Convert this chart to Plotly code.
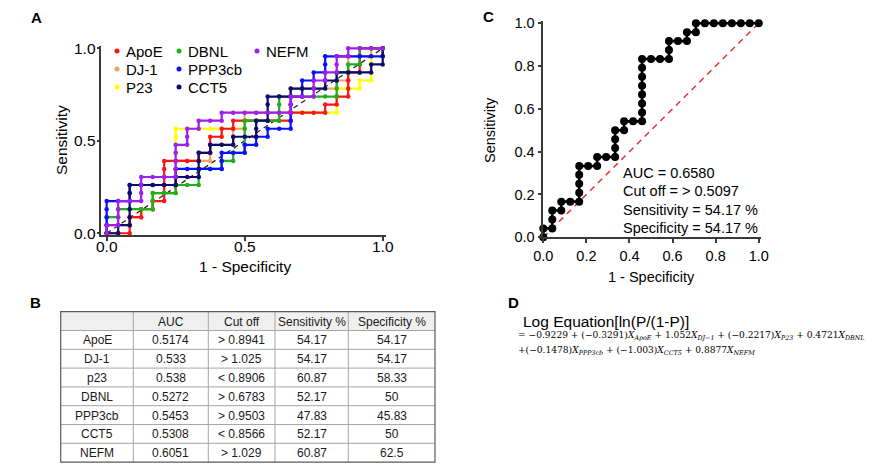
import plotly.graph_objects as go

# page body has an 8 px margin, so the figure is drawn 8 px in from the top-left corner
OFF = 8
W, H = 878 - OFF, 468 - OFF

# ---------------- Panel A data (ROC step sequences) ----------------
# R = one more false positive (step of 1/24 in 1 - specificity)
# U = one more true positive (step of 1/23 in sensitivity)
NEG_A, POS_A = 24, 23
steps_apoe = "RR UU R U R U R UUUUU R RR U R UU R U R U RRRRR U RRR U R U R UUU R UUU RR"
steps_dj1 = "U RR U R U R UU RR UUUU RRR UU RR UU R UU RRRR UUU RRRR U R UUU RR U R"
steps_p23 = "U R UU RRR UU RR UUUUUUUU RRR RRR U RRR U RR RRR UUU RR U R UUUU R"
steps_dbnl = "UU R U R RR UU RR U RR UU RR U R U R UUUU RRR UUU RRRRR UUU R U R UU RR"
steps_ppp3cb = "UUUU RR UU RRRR UU RRRR UU RR U R U R U RR UUUU R UU R U R UU RRRRR U"
steps_cct5 = "R U R UUUUU RRRR U RR UUU R U RR U RR UU R UUU RR U RRR U R U RRR U R UU"
steps_nefm = "U R UUU RR UUU RRR UUUU R UU R U RR U RRRRRR UU RR UU R U R UU R U RRR"

names_a = ["ApoE", "DJ-1", "P23", "DBNL", "PPP3cb", "CCT5", "NEFM"]
colors_a = ["#ff1414", "#f4a460", "#ffff00", "#1fae1f", "#0a10ff", "#0b0b6e", "#a01ef0"]
steps_a = [steps_apoe, steps_dj1, steps_p23, steps_dbnl, steps_ppp3cb, steps_cct5, steps_nefm]
draw_order_a = ["P23", "DJ-1", "ApoE", "DBNL", "PPP3cb", "CCT5", "NEFM"]
ticks_a = [0, 0.5, 1.0]
ticklabels_a = ["0.0", "0.5", "1.0"]

# ---------------- Panel C data ----------------
NEG_C, POS_C = 24, 24
steps_combined = "U R UU R U RR UUUU RR U RR UUU R U RR UUUUUUU RRR UU RR U R U RRRRRRR"
ticks_c = [0, 0.2, 0.4, 0.6, 0.8, 1.0]
ticklabels_c = ["0.0", "0.2", "0.4", "0.6", "0.8", "1.0"]
auc_text = ["AUC = 0.6580", "Cut off = > 0.5097", "Sensitivity = 54.17 %", "Specificity = 54.17 %"]

# ---------------- Panel B table ----------------
tbl_header = ["", "AUC", "Cut off", "Sensitivity %", "Specificity %"]
tbl_marker = ["ApoE", "DJ-1", "p23", "DBNL", "PPP3cb", "CCT5", "NEFM"]
tbl_auc = ["0.5174", "0.533", "0.538", "0.5272", "0.5453", "0.5308", "0.6051"]
tbl_cutoff = ["> 0.8941", "> 1.025", "< 0.8906", "> 0.6783", "> 0.9503", "< 0.8566", "> 1.029"]
tbl_sens = ["54.17", "54.17", "60.87", "52.17", "47.83", "52.17", "60.87"]
tbl_spec = ["54.17", "54.17", "58.33", "50", "45.83", "50", "62.5"]

# ---------------- Panel D equation ----------------
eq_title = "Log Equation[ln(P/(1-P)]"
eq_line1 = ("= \u22120.9229 + (\u22120.3291)<i>X</i><sub><i>ApoE</i></sub> + 1.052<i>X</i><sub><i>DJ\u22121</i></sub>"
            " + (\u22120.2217)<i>X</i><sub><i>P23</i></sub> + 0.4721<i>X</i><sub><i>DBNL</i></sub>")
eq_line2 = ("+(\u22120.1478)<i>X</i><sub><i>PPP3cb</i></sub> + (\u22121.003)<i>X</i><sub><i>CCT5</i></sub>"
            " + 0.8877<i>X</i><sub><i>NEFM</i></sub>")


def decode(steps, n_neg, n_pos):
    s = steps.replace(" ", "")
    assert s.count("R") == n_neg and s.count("U") == n_pos, (s.count("R"), s.count("U"))
    fp = tp = 0
    xs, ys = [0.0], [0.0]
    for c in s:
        if c == "R":
            fp += 1
        else:
            tp += 1
        xs.append(fp / n_neg)
        ys.append(tp / n_pos)
    return xs, ys


def px(x):
    return (x - OFF) / W


def py(y):
    return 1 - (y - OFF) / H


FONT = "Arial, Liberation Sans, sans-serif"
AX = "#3a3a3a"

fig = go.Figure()

# reference diagonal, panel A
fig.add_trace(go.Scatter(x=[0, 1], y=[0, 1], mode="lines", xaxis="x", yaxis="y",
                         line=dict(color="#222", width=1.3, dash="5px,4px"),
                         showlegend=False, hoverinfo="skip"))

for nm in draw_order_a:
    i = names_a.index(nm)
    xs, ys = decode(steps_a[i], NEG_A, POS_A)
    fig.add_trace(go.Scatter(x=xs, y=ys, mode="lines+markers", name=nm,
                             xaxis="x", yaxis="y", cliponaxis=False,
                             line=dict(color=colors_a[i], width=2.2),
                             marker=dict(color=colors_a[i], size=4.5),
                             showlegend=False))

# panel C
fig.add_trace(go.Scatter(x=[0, 1], y=[0, 1], mode="lines", xaxis="x2", yaxis="y2",
                         line=dict(color="#e8343c", width=1.6, dash="6px,5px"),
                         showlegend=False, hoverinfo="skip"))
xc, yc = decode(steps_combined, NEG_C, POS_C)
fig.add_trace(go.Scatter(x=xc, y=yc, mode="lines+markers", xaxis="x2", yaxis="y2",
                         cliponaxis=False, line=dict(color="black", width=2.6),
                         marker=dict(color="black", size=8), showlegend=False))

ann = []
shapes = []

# ---------------- table drawn with shapes + annotations ----------------
col_edges = [60.7, 133.3, 208.3, 275.0, 348.3, 435.0]
row_top, row_h = 311.7, 18.8
columns = [tbl_marker, tbl_auc, tbl_cutoff, tbl_sens, tbl_spec]
n_rows = len(tbl_marker) + 1
row_edges = [row_top + k * row_h for k in range(n_rows + 1)]
shapes.append(dict(type="rect", xref="paper", yref="paper",
                   x0=px(col_edges[0]), x1=px(col_edges[-1]), y0=py(row_edges[1]), y1=py(row_edges[0]),
                   fillcolor="#efefef", line=dict(width=0), layer="below"))
for yy in row_edges[1:-1]:
    shapes.append(dict(type="line", xref="paper", yref="paper", x0=px(col_edges[0]), x1=px(col_edges[-1]),
                       y0=py(yy), y1=py(yy), line=dict(color="#a6a6a6", width=1)))
for xx in col_edges[1:-1]:
    shapes.append(dict(type="line", xref="paper", yref="paper", x0=px(xx), x1=px(xx),
                       y0=py(row_edges[0]), y1=py(row_edges[-1]), line=dict(color="#a6a6a6", width=1)))
shapes.append(dict(type="rect", xref="paper", yref="paper", x0=px(col_edges[0]), x1=px(col_edges[-1]),
                   y0=py(row_edges[-1]), y1=py(row_edges[0]), line=dict(color="#5a5a5a", width=1.2)))
for c in range(5):
    cx = (col_edges[c] + col_edges[c + 1]) / 2
    cells = [tbl_header[c]] + list(columns[c])
    for r, t in enumerate(cells):
        if not t:
            continue
        cy = (row_edges[r] + row_edges[r + 1]) / 2
        ann.append(dict(text=t, x=px(cx), y=py(cy + 0.5), xref="paper", yref="paper", showarrow=False,
                        xanchor="center", yanchor="middle",
                        font=dict(family=FONT, size=12, color="#1a1a1a")))

# panel labels
for lab, x, y in [("A", 36, 17), ("B", 35, 302), ("C", 489, 16), ("D", 513, 302)]:
    ann.append(dict(text="<b>%s</b>" % lab, x=px(x), y=py(y), xref="paper", yref="paper",
                    showarrow=False, xanchor="center", yanchor="middle",
                    font=dict(family=FONT, size=15, color="black")))

# legend of panel A (3 columns)
legend_cols = [["ApoE", "DJ-1", "P23"], ["DBNL", "PPP3cb", "CCT5"], ["NEFM"]]
col_x = [117, 179, 257]
row_y = [51, 69, 87]
for c, col in enumerate(legend_cols):
    for r, nm in enumerate(col):
        clr = colors_a[names_a.index(nm)]
        cx, cy = col_x[c], row_y[r]
        shapes.append(dict(type="circle", xref="paper", yref="paper",
                           x0=px(cx - 2.5), x1=px(cx + 2.5), y0=py(cy + 2.5), y1=py(cy - 2.5),
                           fillcolor=clr, line=dict(width=0)))
        ann.append(dict(text=nm, x=px(cx + 7), y=py(cy), xref="paper", yref="paper",
                        showarrow=False, xanchor="left", yanchor="middle",
                        font=dict(family=FONT, size=15, color="black")))

# panel A tick labels (placed close to the offset axes)
for v, t in zip(ticks_a, ticklabels_a):
    ann.append(dict(text=t, x=v, y=py(246.5), xref="x", yref="paper", showarrow=False,
                    xanchor="center", yanchor="middle", font=dict(family=FONT, size=15.5, color="black")))
    ann.append(dict(text=t, x=px(98.0), y=v, xref="paper", yref="y", showarrow=False,
                    xanchor="right", yanchor="middle", font=dict(family=FONT, size=15.5, color="black")))

# axis titles
ann += [
    dict(text="Sensitivity", x=px(61), y=py(140), textangle=-90, xref="paper", yref="paper",
         showarrow=False, xanchor="center", yanchor="middle", font=dict(family=FONT, size=15.5, color="black")),
    dict(text="1 - Specificity", x=px(245), y=py(266), xref="paper", yref="paper",
         showarrow=False, xanchor="center", yanchor="middle", font=dict(family=FONT, size=15.5, color="black")),
    dict(text="Sensitivity", x=px(490), y=py(130), textangle=-90, xref="paper", yref="paper",
         showarrow=False, xanchor="center", yanchor="middle", font=dict(family=FONT, size=14.5, color="black")),
    dict(text="1 - Specificity", x=px(651), y=py(277), xref="paper", yref="paper",
         showarrow=False, xanchor="center", yanchor="middle", font=dict(family=FONT, size=14.5, color="black")),
]

# panel C statistics text
for k, t in enumerate(auc_text):
    ann.append(dict(text=t, x=px(621), y=py(173 + 18.3 * k), xref="paper", yref="paper",
                    showarrow=False, xanchor="left", yanchor="middle",
                    font=dict(family=FONT, size=14.5, color="black")))

# panel D equation
ann.append(dict(text=eq_title, x=px(521), y=py(321), xref="paper", yref="paper",
                showarrow=False, xanchor="left", yanchor="middle",
                font=dict(family=FONT, size=15.5, color="black")))
ann.append(dict(text=eq_line1, x=px(516), y=py(336), xref="paper", yref="paper",
                showarrow=False, xanchor="left", yanchor="middle",
                font=dict(family="DejaVu Serif, serif", size=9.1, color="black")))
ann.append(dict(text=eq_line2, x=px(516), y=py(351), xref="paper", yref="paper",
                showarrow=False, xanchor="left", yanchor="middle",
                font=dict(family="DejaVu Serif, serif", size=9.1, color="black")))

axis_common = dict(showline=True, linecolor=AX, linewidth=1.6, ticks="outside", tickcolor=AX,
                   tickwidth=1.5, showgrid=False, zeroline=False, fixedrange=True, automargin=False)

fig.update_layout(
    width=W, height=H, margin=dict(l=0, r=0, t=0, b=0, pad=0, autoexpand=False),
    paper_bgcolor="white", plot_bgcolor="white",
    font=dict(family=FONT, color="black"),
    showlegend=False,
    xaxis=dict(domain=[px(100.6), px(386.0)], range=[-0.022, 1.012], anchor="y",
               tickvals=ticks_a, showticklabels=False, ticklen=4, **axis_common),
    yaxis=dict(domain=[py(235.3), py(46.1)], range=[-0.011, 1.012], anchor="x",
               tickvals=ticks_a, showticklabels=False, ticklen=2, **axis_common),
    xaxis2=dict(domain=[px(543.3), px(760.9)], range=[0, 1.01], anchor="y2",
                tickvals=ticks_c, ticktext=ticklabels_c, ticklen=4,
                tickfont=dict(size=14.5), **axis_common),
    yaxis2=dict(domain=[py(237.3), py(20.7)], range=[0, 1.012], anchor="x2",
                tickvals=ticks_c, ticktext=ticklabels_c, ticklen=4,
                tickfont=dict(size=14.5), **axis_common),
    annotations=ann,
    shapes=shapes,
)

fig.write_html("out.html")
